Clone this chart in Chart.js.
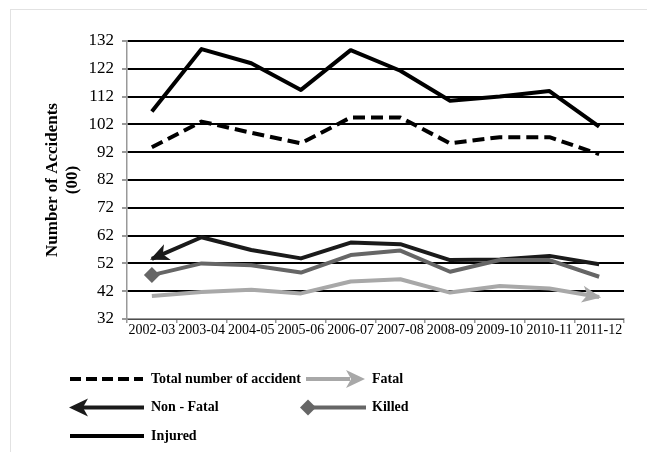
<!DOCTYPE html>
<html>
<head>
<meta charset="utf-8">
<script src="https://cdn.jsdelivr.net/npm/chart.js@4/dist/chart.umd.min.js"></script>
<style>
  html, body { margin: 0; padding: 0; background: #fff; }
  canvas { display: block; }
</style>
</head>
<body>
<canvas id="graphCanvasAccidents" width="647" height="452"></canvas>
<script>
// values in hundreds
var years = ['2002-03', '2003-04', '2004-05', '2005-06', '2006-07', '2007-08', '2008-09', '2009-10', '2010-11', '2011-12'];
var totalAccidents = [93.8, 103, 99, 95.2, 104.5, 104.5, 95.2, 97.4, 97.4, 91.3];
var fatal = [40.3, 41.7, 42.5, 41.2, 45.5, 46.3, 41.5, 43.9, 43, 39.9];
var nonFatal = [53.6, 61.4, 56.8, 53.8, 59.5, 58.9, 53.2, 53.4, 54.7, 51.7];
var killed = [47.8, 52, 51.3, 48.7, 55, 56.6, 49, 53.2, 53.2, 47.2];
var injured = [106.6, 129.1, 124, 114.4, 128.7, 121.3, 110.5, 112, 114, 101.2];
var yTicks = [32, 42, 52, 62, 72, 82, 92, 102, 112, 122, 132];

var serif = "'Liberation Serif', 'Times New Roman', serif";

function drawArrowHead(ctx, fx, fy, tx, ty, color, len, half) {
    var ang = Math.atan2(ty - fy, tx - fx);
    ctx.save();
    ctx.translate(tx, ty);
    ctx.rotate(ang);
    ctx.fillStyle = color;
    ctx.beginPath();
    ctx.moveTo(2, 0);
    ctx.lineTo(-len, -half);
    ctx.lineTo(-len * 0.7, 0);
    ctx.lineTo(-len, half);
    ctx.closePath();
    ctx.fill();
    ctx.restore();
}

var framePlugin = {
    id: 'frame',
    beforeDraw: function (chart) {
        var ctx = chart.ctx;
        ctx.save();
        ctx.fillStyle = '#fff';
        ctx.fillRect(0, 0, chart.width, chart.height);
        ctx.strokeStyle = '#e2e2e2';
        ctx.lineWidth = 1;
        ctx.strokeRect(10.5, 9.5, 700, 500);
        ctx.restore();
    }
};

var arrowPlugin = {
    id: 'arrows',
    afterDatasetsDraw: function (chart) {
        var ctx = chart.ctx;
        chart.data.datasets.forEach(function (ds, i) {
            if (!ds.arrow) return;
            var pts = chart.getDatasetMeta(i).data;
            var a, b;
            if (ds.arrow === 'start') { a = pts[1]; b = pts[0]; }
            else { a = pts[pts.length - 2]; b = pts[pts.length - 1]; }
            drawArrowHead(ctx, a.x, a.y, b.x, b.y, ds.borderColor, 17, 8.5);
        });
    }
};

var legendPlugin = {
    id: 'sideLegend',
    afterDraw: function (chart) {
        var ctx = chart.ctx;
        ctx.save();
        ctx.font = 'bold 14px ' + serif;
        ctx.textBaseline = 'middle';
        ctx.fillStyle = '#000';
        ctx.lineWidth = 4;

        // Total number of accident
        ctx.strokeStyle = '#000';
        ctx.setLineDash([11, 5]);
        ctx.beginPath(); ctx.moveTo(70, 379); ctx.lineTo(143, 379); ctx.stroke();
        ctx.setLineDash([]);
        ctx.fillText('Total number of accident', 151, 379);

        // Non - Fatal
        ctx.strokeStyle = '#1a1a1a';
        ctx.beginPath(); ctx.moveTo(82, 407.5); ctx.lineTo(144, 407.5); ctx.stroke();
        drawArrowHead(ctx, 100, 407.5, 71, 407.5, '#1a1a1a', 17, 9);
        ctx.fillText('Non - Fatal', 151, 407.5);

        // Injured
        ctx.strokeStyle = '#000';
        ctx.beginPath(); ctx.moveTo(70, 436); ctx.lineTo(144, 436); ctx.stroke();
        ctx.fillText('Injured', 151, 436);

        // Fatal
        ctx.strokeStyle = '#a8a8a8';
        ctx.beginPath(); ctx.moveTo(306, 379); ctx.lineTo(350, 379); ctx.stroke();
        drawArrowHead(ctx, 330, 379, 363, 379, '#a8a8a8', 17, 9);
        ctx.fillText('Fatal', 372, 379);

        // Killed
        ctx.strokeStyle = '#666';
        ctx.beginPath(); ctx.moveTo(308, 407.5); ctx.lineTo(366, 407.5); ctx.stroke();
        ctx.fillStyle = '#666';
        ctx.beginPath();
        ctx.moveTo(308, 399.5); ctx.lineTo(316, 407.5); ctx.lineTo(308, 415.5); ctx.lineTo(300, 407.5);
        ctx.closePath(); ctx.fill();
        ctx.fillStyle = '#000';
        ctx.fillText('Killed', 372, 407.5);
        ctx.restore();
    }
};

function lineSet(label, data, color, extra) {
    var ds = {
        label: label,
        data: data,
        borderColor: color,
        backgroundColor: color,
        borderWidth: 4,
        pointRadius: 0,
        pointHoverRadius: 0,
        tension: 0,
        borderJoinStyle: 'round',
        fill: false
    };
    for (var k in extra) ds[k] = extra[k];
    return ds;
}

var chartdata = {
    labels: years,
    datasets: [
        lineSet('Fatal', fatal, '#a8a8a8', { arrow: 'end' }),
        lineSet('Killed', killed, '#666666', {
            pointStyle: 'rectRot',
            pointRadius: [8, 0, 0, 0, 0, 0, 0, 0, 0, 0],
            pointBorderWidth: 0
        }),
        lineSet('Non - Fatal', nonFatal, '#1a1a1a', { arrow: 'start' }),
        lineSet('Total number of accident', totalAccidents, '#000000', { borderDash: [12, 6] }),
        lineSet('Injured', injured, '#000000', {})
    ]
};

var graphTarget = document.getElementById('graphCanvasAccidents');

var lineGraph = new Chart(graphTarget, {
    type: 'line',
    data: chartdata,
    plugins: [framePlugin, arrowPlugin, legendPlugin],
    options: {
        responsive: false,
        animation: false,
        events: [],
        layout: { padding: { left: 0, right: 23, top: 41, bottom: 113 } },
        plugins: {
            legend: { display: false },
            tooltip: { enabled: false }
        },
        scales: {
            x: {
                offset: true,
                grid: {
                    offset: true,
                    drawOnChartArea: false,
                    color: '#999',
                    tickLength: 4,
                    lineWidth: 1.5
                },
                border: { color: '#999', width: 1.5 },
                ticks: {
                    color: '#000',
                    font: { family: serif, size: 14 },
                    padding: -1,
                    maxRotation: 0,
                    autoSkip: false
                },
                afterFit: function (scale) { scale.height = 20; }
            },
            y: {
                min: 32,
                max: 132,
                afterBuildTicks: function (scale) {
                    scale.ticks = yTicks.map(function (v) { return { value: v }; });
                },
                grid: {
                    color: '#000',
                    tickColor: '#999',
                    lineWidth: 2,
                    tickLength: 5
                },
                border: { color: '#999', width: 1.5 },
                ticks: {
                    color: '#000',
                    font: { family: serif, size: 17 },
                    padding: 8
                },
                title: {
                    display: true,
                    text: ['Number of Accidents', '(00)'],
                    color: '#000',
                    font: { family: serif, size: 17, weight: 'bold', lineHeight: 1.2 },
                    padding: { top: 42, bottom: 0 }
                },
                afterFit: function (scale) { scale.width = 127; }
            }
        }
    }
});
</script>
</body>
</html>
